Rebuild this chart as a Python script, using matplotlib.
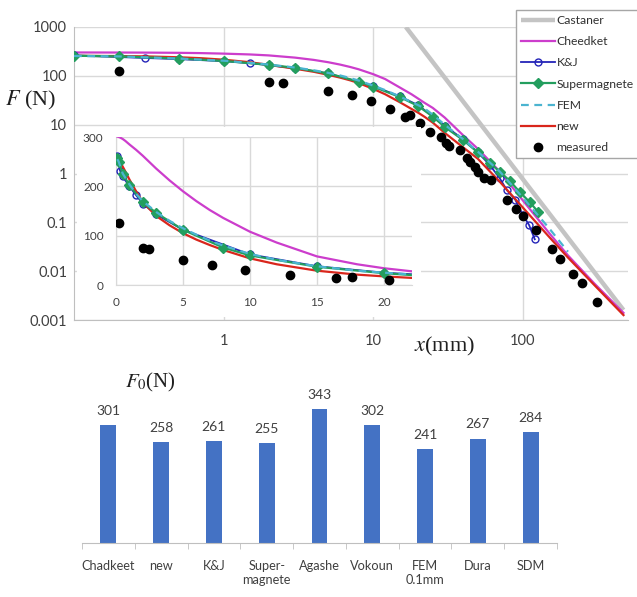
import matplotlib
matplotlib.use('Agg')
import matplotlib.pyplot as plt
from matplotlib.patches import Rectangle
from matplotlib.ticker import NullLocator
import numpy as np

plt.rcParams['font.family'] = ['Lato', 'DejaVu Sans']
plt.rcParams['mathtext.fontset'] = 'stix'

# ---------------- data ----------------
# Castaner (straight line in log-log)
x_castaner = [16.5, 470]
F_castaner = [1000, 0.0016]

# Cheedket and new models (mm, N)
x_model = [0.1, 0.2, 0.3, 0.5, 0.7, 1, 1.5, 2, 3, 4, 5, 6, 7, 8, 10, 12, 15, 18,
           20, 22, 25, 30, 40, 50, 70, 100, 150, 200, 300, 470]
F_cheedket = [301, 300, 299, 296, 292, 285, 274, 262, 236, 212, 190, 170, 152, 136,
              108, 86, 58, 42, 34, 28, 22, 14, 6.0, 3.2, 1.1, 0.28, 0.06, 0.021,
              0.0056, 0.0014]
F_new = [257, 254, 250, 240, 230, 214, 190, 168, 140, 121, 105, 92, 81, 71, 54, 42,
         29, 21, 17.5, 14.5, 11, 6.8, 3.4, 2.0, 0.68, 0.2, 0.05, 0.019, 0.0052,
         0.00126]

# K&J
x_kj = [0.1, 0.3, 0.5, 1, 1.5, 2, 3, 5, 10, 15, 20, 30, 40, 50, 60, 70, 78, 89,
        100, 110, 120]
F_kj = [262, 232, 220, 200, 182, 165, 143, 112, 62, 38, 25, 9.5, 5.0, 2.7, 1.5,
        0.8, 0.46, 0.29, 0.14, 0.088, 0.045]

# Supermagnete
x_sm = [0.1, 0.2, 0.5, 1, 2, 3, 5, 8, 10, 15, 20, 25, 30, 40, 50, 60, 70, 82, 95,
        111, 126]
F_sm = [258, 250, 226, 202, 168, 146, 112, 76, 60, 37, 24, 14.6, 9.0, 4.8, 2.7,
        1.65, 1.09, 0.7, 0.42, 0.26, 0.165]

# FEM
x_fem = [0.1, 0.2, 0.5, 1, 1.5, 2, 3, 4, 5, 6, 7, 8, 10, 12, 15, 18, 20, 22, 25,
         30, 40, 50, 70, 100, 150, 200]
F_fem = [255, 250, 226, 204, 185, 170, 148, 130, 115, 102, 90, 80, 63, 51, 38, 29,
         25, 21.5, 16, 10, 5, 2.8, 1.1, 0.32, 0.075, 0.025]

# measured
x_meas = [0.2, 2.0, 2.5, 5.0, 7.2, 9.6, 13.0, 16.4, 17.6, 20.4, 23.8, 28.5, 30.6,
          32.3, 38.2, 42.5, 44.0, 47.5, 50.3, 55, 60.9, 78.2, 89.8, 100.6, 121.6,
          155.6, 177, 217, 248, 311]
F_meas = [125, 76, 72, 50, 40, 31, 21, 14.5, 15.5, 11, 7.0, 5.6, 4.2, 3.6, 3.1, 2.1,
          1.74, 1.33, 1.09, 0.8, 0.72, 0.28, 0.19, 0.137, 0.07, 0.028, 0.018,
          0.0086, 0.0056, 0.0023]

main_xticks = [1, 10, 100]
main_xticklabels = ['1', '10', '100']
main_yticks = [0.001, 0.01, 0.1, 1, 10, 100, 1000]
main_yticklabels = ['0.001', '0.01', '0.1', '1', '10', '100', '1000']
inset_xticks = [0, 5, 10, 15, 20]
inset_yticks = [0, 100, 200, 300]

bar_categories = ['Chadkeet', 'new', 'K&J', 'Super-\nmagnete', 'Agashe', 'Vokoun',
                  'FEM\n0.1mm', 'Dura', 'SDM']
bar_F0 = [301, 258, 261, 255, 343, 302, 241, 267, 284]

# ---------------- styles ----------------
C_CAST = '#C4C4C4'
C_CHEED = '#CC3DCC'
C_KJ = '#2424B8'
C_SM = '#239E5E'
C_FEM = '#4BB4D0'
C_NEW = '#D9261C'
C_GRID = '#D9D9D9'
C_AX = '#BFBFBF'
C_TXT = '#404040'

W, H = 637, 597
fig = plt.figure(figsize=(W / 100, H / 100), dpi=100)


def fx(px):
    return px / W


def fy(py):
    return 1 - py / H


def draw_curves(a, inset=False):
    lines = {}
    if not inset:
        lines['Castaner'], = a.plot(x_castaner, F_castaner, color=C_CAST, lw=3.2,
                                    zorder=2, solid_capstyle='butt')
    lines['Cheedket'], = a.plot(x_model, F_cheedket, color=C_CHEED, lw=1.6, zorder=3)
    lines['K&J'], = a.plot(x_kj, F_kj, color=C_KJ, lw=1.3, marker='o', ms=5,
                           mfc='none', mec=C_KJ, mew=1.0, zorder=3.5)
    lines['Supermagnete'], = a.plot(x_sm, F_sm, color=C_SM, lw=1.6, marker='D',
                                    ms=5, mfc=C_SM, mec=C_SM, zorder=4)
    lines['FEM'], = a.plot(x_fem, F_fem, color=C_FEM, lw=1.6, ls=(0, (3.5, 2.5)),
                           zorder=4.5)
    lines['new'], = a.plot(x_model, F_new, color=C_NEW, lw=1.6, zorder=3.8)
    lines['measured'], = a.plot(x_meas, F_meas, ls='none', marker='o', ms=6,
                                color='black', zorder=5)
    return lines


# ---------------- main log-log axes ----------------
ax = fig.add_axes([fx(74), fy(320), fx(627.5) - fx(74), fy(27) - fy(320)])
ax.set_zorder(0)
ax.set_xscale('log')
ax.set_yscale('log')
lines = draw_curves(ax)
ax.set_xlim(0.1, 500)
ax.set_ylim(1e-3, 1e3)
ax.set_xticks(main_xticks)
ax.set_xticklabels(main_xticklabels)
ax.set_yticks(main_yticks)
ax.set_yticklabels(main_yticklabels)
ax.xaxis.set_minor_locator(NullLocator())
ax.yaxis.set_minor_locator(NullLocator())
ax.grid(True, color=C_GRID, lw=1.0)
ax.set_axisbelow(True)
for s in ['top', 'right']:
    ax.spines[s].set_visible(False)
for s in ['left', 'bottom']:
    ax.spines[s].set_color(C_AX)
ax.tick_params(axis='both', length=0, labelsize=10.5, labelcolor=C_TXT)
ax.tick_params(axis='x', pad=10)
ax.tick_params(axis='y', pad=5)

order = ['Castaner', 'Cheedket', 'K&J', 'Supermagnete', 'FEM', 'new', 'measured']
leg = ax.legend([lines[k] for k in order], order, loc='upper left',
                bbox_to_anchor=(fx(516), fy(10)), bbox_transform=fig.transFigure,
                borderaxespad=0, fontsize=8.7, handlelength=2.8, handletextpad=0.15,
                labelspacing=0.85, borderpad=0.4, frameon=True, fancybox=False,
                framealpha=1, edgecolor='#A6A6A6')
leg.get_frame().set_linewidth(1.0)
for t in leg.get_texts():
    t.set_color('#303030')

fig.text(fx(31), fy(100), r'$F$ (N)', fontsize=16, family='Liberation Serif',
         ha='center', va='center', color='#202020')
fig.text(fx(445), fy(346), r'$x$(mm)', fontsize=16, family='Liberation Serif',
         ha='center', va='center', color='#202020')

# white backdrop for the inset
rect = Rectangle((fx(77), fy(317)), fx(421) - fx(77), fy(127) - fy(317),
                 transform=fig.transFigure, facecolor='white', edgecolor='none',
                 zorder=1)
fig.add_artist(rect)

# ---------------- inset linear axes ----------------
axi = fig.add_axes([fx(116), fy(285), fx(412) - fx(116), fy(137) - fy(285)])
axi.set_zorder(2)
axi.patch.set_facecolor('white')
draw_curves(axi, inset=True)
axi.set_xlim(0, 22.1)
axi.set_ylim(0, 300)
axi.set_xticks(inset_xticks)
axi.set_yticks(inset_yticks)
axi.grid(True, color=C_GRID, lw=1.0)
axi.set_axisbelow(True)
for s in ['top', 'right']:
    axi.spines[s].set_visible(False)
for s in ['left', 'bottom']:
    axi.spines[s].set_color(C_GRID)
axi.tick_params(axis='both', length=0, labelsize=8.5, labelcolor=C_TXT)
axi.tick_params(axis='x', pad=9)
axi.tick_params(axis='y', pad=9)

# ---------------- bar chart ----------------
axb = fig.add_axes([fx(82), fy(543), fx(557) - fx(82), fy(386) - fy(543)])
pos = np.arange(len(bar_F0))
axb.bar(pos, bar_F0, width=0.3, color='#4472C4', zorder=2)
axb.set_xlim(-0.5, len(bar_F0) - 0.5)
axb.set_ylim(0, 402)
for i, v in zip(pos, bar_F0):
    axb.annotate(str(v), (i, v), xytext=(0, 6), textcoords='offset points',
                 ha='center', va='bottom', fontsize=10, color=C_TXT)
axb.set_xticks(pos)
axb.set_xticklabels(bar_categories, fontsize=9.2, color=C_TXT, linespacing=1.25,
                    va='top')
axb.set_xticks(np.arange(-0.5, len(bar_F0), 1.0), minor=True)
axb.tick_params(axis='x', which='major', length=0, pad=12)
axb.tick_params(axis='x', which='minor', length=4, color=C_AX, direction='out')
axb.yaxis.set_visible(False)
for s in ['top', 'right', 'left']:
    axb.spines[s].set_visible(False)
axb.spines['bottom'].set_color(C_AX)

fig.text(fx(150), fy(382), r'$F_0$(N)', fontsize=15, family='Liberation Serif',
         ha='center', va='center', color='#202020')

fig.savefig('out.png', dpi=100)
